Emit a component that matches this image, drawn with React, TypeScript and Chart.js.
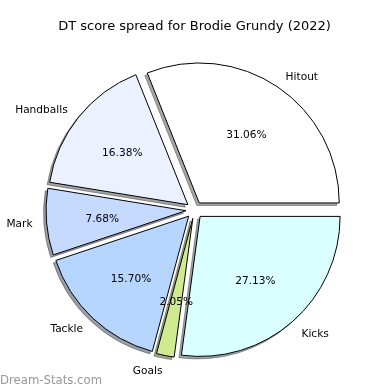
import React, { useEffect, useRef } from 'react';
import { Chart, registerables } from 'chart.js';

Chart.register(...registerables);

// ---- data (matplotlib order: counter-clockwise from 3 o'clock) ----
const categories = ['Hitout', 'Handballs', 'Mark', 'Tackle', 'Goals', 'Kicks'];
const shares = [31.06, 16.38, 7.68, 15.7, 2.05, 27.13];
const sliceColors = ['#ffffff', '#ebf1ff', '#c6d9ff', '#b6d6ff', '#d0eb8f', '#daffff'];
const titleText = 'DT score spread for Brodie Grundy (2022)';
const watermarkText = 'Dream-Stats.com';

const FONT = '"DejaVu Sans", sans-serif';

function shadowOf(hex: string): string {
  const h = hex.replace('#', '');
  const r = parseInt(h.slice(0, 2), 16);
  const g = parseInt(h.slice(2, 4), 16);
  const b = parseInt(h.slice(4, 6), 16);
  return `rgba(${Math.round(r * 0.3)},${Math.round(g * 0.3)},${Math.round(b * 0.3)},0.5)`;
}

const EXPLODE = 8.5;
const SHADOW_DX = -2.5;
const SHADOW_DY = 2.5;
const TEXT_DY = 1.5;

const pieDecor = {
  id: 'pieDecor',
  beforeDatasetsDraw(chart: any) {
    const ctx: CanvasRenderingContext2D = chart.ctx;
    const meta = chart.getDatasetMeta(0);
    const labels: string[] = chart.data.labels;
    const values: number[] = chart.data.datasets[0].data;
    const colors: string[] = chart.data.datasets[0].backgroundColor;
    const info = meta.data.map((a: any) => {
      const p = a.getProps(['x', 'y', 'startAngle', 'endAngle', 'outerRadius'], true);
      const mid = (p.startAngle + p.endAngle) / 2;
      return { a, p, mid, dx: Math.cos(mid) * EXPLODE, dy: Math.sin(mid) * EXPLODE };
    });
    // shadows behind everything
    info.forEach((it: any, i: number) => {
      const orig = it.a.options;
      const sh = shadowOf(colors[i]);
      it.a.options = { ...orig, backgroundColor: sh, borderColor: sh };
      ctx.save();
      ctx.translate(it.dx + SHADOW_DX, it.dy + SHADOW_DY);
      it.a.draw(ctx);
      ctx.restore();
      it.a.options = orig;
    });
    // wedges
    info.forEach((it: any) => {
      ctx.save();
      ctx.translate(it.dx, it.dy);
      it.a.draw(ctx);
      ctx.restore();
    });
    // labels
    ctx.save();
    ctx.fillStyle = '#000';
    ctx.font = `10.6px ${FONT}`;
    ctx.textBaseline = 'middle';
    info.forEach((it: any, i: number) => {
      const cx = it.p.x + it.dx;
      const cy = it.p.y + it.dy;
      const R = it.p.outerRadius;
      const c = Math.cos(it.mid);
      const s = Math.sin(it.mid);
      ctx.textAlign = c > 0 ? 'left' : 'right';
      ctx.fillText(labels[i], cx + 1.1 * R * c, cy + 1.1 * R * s + TEXT_DY);
      ctx.textAlign = 'center';
      ctx.fillText(values[i].toFixed(2) + '%', cx + 0.6 * R * c, cy + 0.6 * R * s + TEXT_DY);
    });
    // title
    ctx.font = `13px ${FONT}`;
    ctx.textAlign = 'center';
    ctx.fillText(titleText, 194.5, 26.5);
    // watermark
    ctx.font = `11.7px ${FONT}`;
    ctx.fillStyle = '#999999';
    ctx.textAlign = 'left';
    ctx.fillText(watermarkText, 0, 380.5);
    ctx.restore();
    return false;
  },
};

export default function App() {
  const ref = useRef<HTMLCanvasElement>(null);
  useEffect(() => {
    if (!ref.current) return;
    const order = categories.map((_, i) => i).reverse();
    const chart = new Chart(ref.current, {
      type: 'pie',
      data: {
        labels: order.map((i) => categories[i]),
        datasets: [
          {
            data: order.map((i) => shares[i]),
            backgroundColor: order.map((i) => sliceColors[i]),
            borderColor: '#000000',
            borderWidth: 1,
            borderJoinStyle: 'miter',
            offset: 0,
            hoverOffset: 0,
            radius: 140,
          } as any,
        ],
      },
      options: {
        responsive: false,
        animation: false,
        rotation: 90,
        layout: { padding: { left: 40, right: 41, top: 65, bottom: 35 } },
        plugins: {
          legend: { display: false },
          title: { display: false },
          tooltip: { enabled: false },
        },
        events: [],
      },
      plugins: [pieDecor as any],
    });
    return () => chart.destroy();
  }, []);
  return (
    <div style={{ position: 'fixed', left: 0, top: 0, width: 390, height: 390, background: '#fff' }}>
      <canvas ref={ref} width={390} height={390} style={{ width: 390, height: 390, display: 'block' }} />
    </div>
  );
}
